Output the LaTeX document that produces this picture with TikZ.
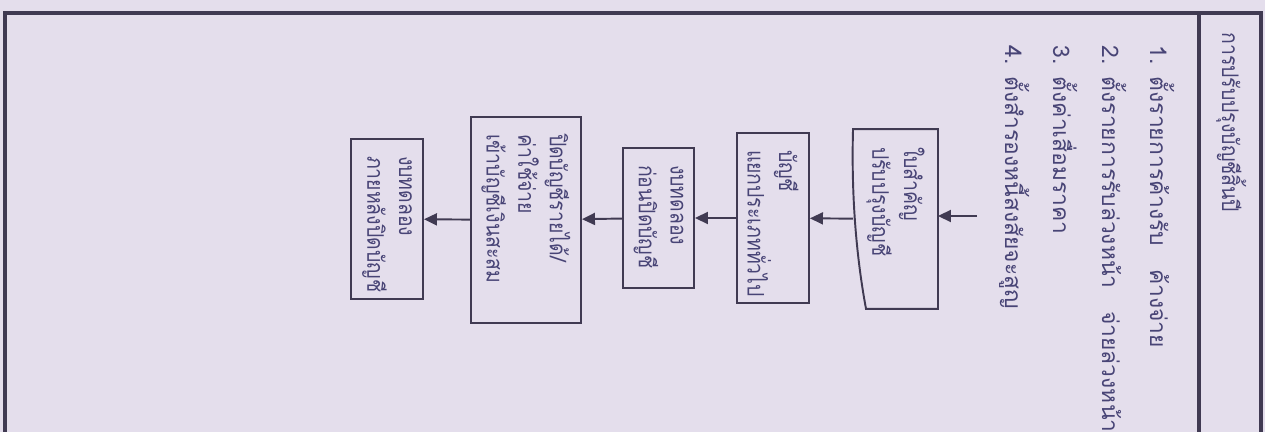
\documentclass[tikz,border=0pt]{standalone}
\usepackage{fontspec}
\newfontfamily\thaifont[Script=Thai]{Loma}
\newfontfamily\thainarrow[Script=Thai, FakeStretch=0.85]{Loma}
\usepackage{xcolor}
\usetikzlibrary{arrows.meta, calc}
\definecolor{paper}{RGB}{228,222,236}
\definecolor{ink}{RGB}{64,58,82}
\definecolor{pen}{RGB}{72,68,118}

\begin{document}
\begin{tikzpicture}[
    x=0.02cm, y=-0.02cm,
    font=\thaifont\fontsize{13}{18}\selectfont,
    frame/.style={draw=ink, line width=2.4pt},
    box/.style={draw=ink, line width=1.1pt, rotate=-90, align=left, inner xsep=0.34cm, inner ysep=0pt, text=pen,
      font=\thainarrow\fontsize{13}{18}\selectfont},
    item/.style={rotate=-90, anchor=base west, inner sep=0pt, text=pen},
    arr/.style={draw=ink, line width=1.1pt, -{Triangle[length=2.6mm,width=2.4mm]}}]
  \useasboundingbox (0,0) rectangle (1265,432);
  \fill[paper] (0,0) rectangle (1265,432);
  \clip (0,0) rectangle (1265,432);
  \draw[frame] (5,440) -- (5,13) -- (1261,13) -- (1261,440);
  \draw[frame] (1199,13) -- (1199,440);
  \node[item, font=\thainarrow\fontsize{13}{18}\selectfont] (title) at (1222,32) {การปรับปรุงบัญชีสิ้นปี};
  \node[item] (i1) at (1150,45) {1.\hspace{0.25cm}ตั้งรายการค้างรับ\quad ค้างจ่าย};
  \node[item] (i2) at (1102,45) {2.\hspace{0.25cm}ตั้งรายการรับล่วงหน้า\quad จ่ายล่วงหน้า};
  \node[item] (i3) at (1053,45) {3.\hspace{0.25cm}ตั้งค่าเสื่อมราคา};
  \node[item] (i4) at (1005,45) {4.\hspace{0.25cm}ตั้งสำรองหนี้สงสัยจะสูญ};
  % document box, wavy edge drawn by hand
  \node[box, draw=none, text width=2.88cm, minimum height=1.66cm] (voucher) at (895.5,219) {ใบสำคัญ\\ปรับปรุงบัญชี};
  \draw[ink, line width=1.1pt] (voucher.north west) -- (voucher.north east) -- ([xshift=0.26cm]voucher.south east)
    .. controls +(-0.18cm,0.96cm) and +(-0.04cm,-1.4cm) .. (voucher.south west) -- cycle;
  \node[box, text width=2.72cm, minimum height=1.44cm] (ledger) at (773,218) {บัญชี\\แยกประเภททั่วไป};
  \node[box, text width=2.12cm, minimum height=1.42cm] (trialpre) at (658.5,218) {งบทดลอง\\ก่อนปิดบัญชี};
  \node[box, text width=3.44cm, minimum height=2.2cm] (closing) at (526,220) {ปิดบัญชีรายได้/\\ค่าใช้จ่าย\\เข้าบัญชีเงินสะสม};
  \node[box, text width=2.52cm, minimum height=1.44cm] (trialpost) at (387,219) {งบทดลอง\\ภายหลังปิดบัญชี};
  \coordinate (feed) at (977,216);
  \draw[arr] (feed) -- (feed -| voucher.north);
  \draw[arr] (voucher) -- (ledger);
  \draw[arr] (ledger) -- (trialpre);
  \draw[arr] (trialpre) -- (closing);
  \draw[arr] (closing) -- (trialpost);
\end{tikzpicture}
\end{document}
